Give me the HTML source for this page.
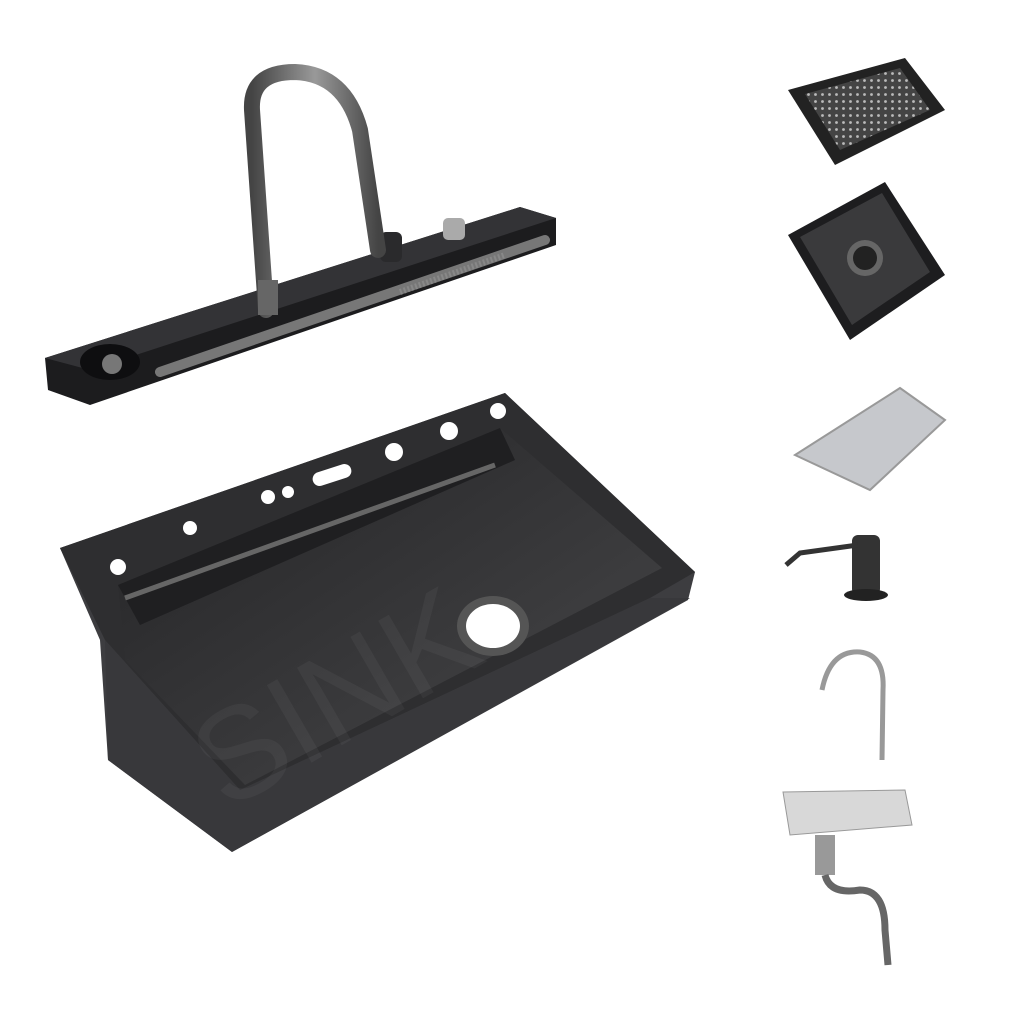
<!DOCTYPE html>
<html><head><meta charset="utf-8"><style>
html,body{margin:0;padding:0;background:#fff;width:1024px;height:1024px;overflow:hidden}
svg{display:block}
</style></head><body>
<svg width="1024" height="1024" viewBox="0 0 1024 1024" xmlns="http://www.w3.org/2000/svg">
<defs>
<linearGradient id="metal" x1="0" y1="0" x2="1" y2="0"><stop offset="0" stop-color="#444"/><stop offset=".5" stop-color="#999"/><stop offset="1" stop-color="#444"/></linearGradient>
<linearGradient id="sinkin" x1="0" y1="0" x2="1" y2="1"><stop offset="0" stop-color="#232325"/><stop offset="1" stop-color="#48484a"/></linearGradient>
<pattern id="dots" width="7" height="7" patternUnits="userSpaceOnUse"><circle cx="3.5" cy="3.5" r="1.4" fill="#bbb"/></pattern>
</defs>
<!-- Faucet deck -->
<polygon points="45,358 520,207 556,218 556,245 90,405 48,390" fill="#1c1c1e"/>
<polygon points="45,358 520,207 556,218 90,370" fill="#333336"/>
<ellipse cx="110" cy="362" rx="30" ry="18" fill="#0e0e10"/>
<circle cx="112" cy="364" r="10" fill="#777"/>
<path d="M160,372 L545,240" stroke="#777" stroke-width="10" stroke-linecap="round"/>
<path d="M400,292 L505,255" stroke="#888" stroke-width="6" stroke-dasharray="2 2"/>
<rect x="380" y="232" width="22" height="30" rx="6" fill="#2a2a2c"/>
<rect x="443" y="218" width="22" height="22" rx="5" fill="#aaa"/>
<path d="M266,310 L252,110 Q250,72 295,72 Q345,74 360,130 L378,250" stroke="url(#metal)" stroke-width="16" fill="none" stroke-linecap="round"/>
<rect x="258" y="280" width="20" height="35" fill="#666"/>
<!-- Sink -->
<polygon points="60,548 505,393 695,572 688,600 232,852 108,760 100,640" fill="#3d3d40"/>
<polygon points="60,548 505,393 695,572 650,598 240,790 105,640" fill="#2e2e30"/>
<polygon points="118,585 500,428 662,568 245,785 125,660" fill="url(#sinkin)"/>
<polygon points="118,585 500,428 515,460 140,625" fill="#1f1f21"/>
<polygon points="105,640 240,790 650,598 690,598 232,852 108,760" fill="#38383b"/>
<ellipse cx="493" cy="626" rx="36" ry="30" fill="#555"/>
<ellipse cx="493" cy="626" rx="27" ry="22" fill="#fff"/>
<g fill="#fff">
<circle cx="118" cy="567" r="8"/><circle cx="190" cy="528" r="7"/><circle cx="268" cy="497" r="7"/><circle cx="288" cy="492" r="6"/>
<rect x="312" y="468" width="40" height="14" rx="7" transform="rotate(-18 332 475)"/>
<circle cx="394" cy="452" r="9"/><circle cx="449" cy="431" r="9"/><circle cx="498" cy="411" r="8"/>
</g>
<path d="M125,598 L495,465" stroke="#666" stroke-width="5"/>
<!-- colander -->
<polygon points="788,90 905,58 945,110 835,165" fill="#222"/>
<polygon points="805,94 900,68 930,110 840,150" fill="#444"/>
<polygon points="805,94 900,68 930,110 840,150" fill="url(#dots)"/>
<!-- square basin -->
<polygon points="788,235 885,182 945,275 850,340" fill="#1d1d1f"/>
<polygon points="800,237 882,193 930,272 852,325" fill="#3a3a3c"/>
<circle cx="865" cy="258" r="18" fill="#666"/><circle cx="865" cy="258" r="12" fill="#222"/>
<!-- cutting board -->
<polygon points="795,455 900,388 945,420 870,490" fill="#c6c8cc" stroke="#999" stroke-width="2"/>
<!-- soap dispenser -->
<rect x="852" y="535" width="28" height="60" rx="6" fill="#333"/>
<ellipse cx="866" cy="595" rx="22" ry="6" fill="#222"/>
<path d="M858,545 L800,553 L786,565" stroke="#333" stroke-width="5" fill="none"/>
<!-- small faucet -->
<path d="M822,690 Q830,650 860,652 Q885,655 883,690 L882,760" stroke="#999" stroke-width="5" fill="none"/>
<!-- drain -->
<polygon points="783,792 905,790 912,825 790,835" fill="#d8d8d8" stroke="#999"/>
<rect x="815" y="835" width="20" height="40" fill="#999"/>
<path d="M825,875 Q830,895 860,890 Q885,890 885,930 L888,965" stroke="#666" stroke-width="7" fill="none"/>
<!-- watermark -->
<text x="180" y="760" font-family="Liberation Sans, sans-serif" font-size="130" fill="#fff" opacity=".04" transform="rotate(-30 300 700)">SINK</text>
</svg>
</body></html>
